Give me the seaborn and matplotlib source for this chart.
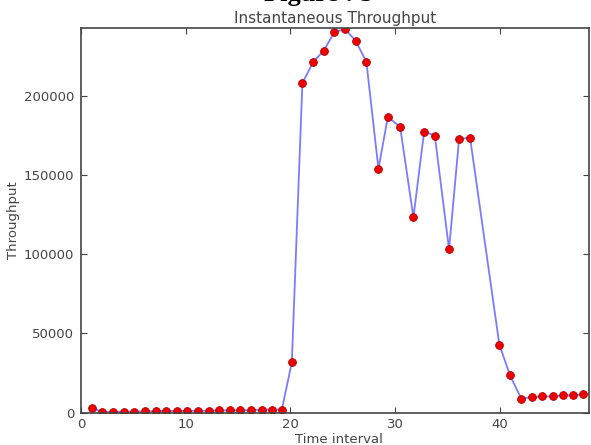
import matplotlib
matplotlib.use("Agg")
import matplotlib.pyplot as plt
import seaborn as sns

# values
time = [1.07, 2.05, 3.07, 4.09, 5.10, 6.13, 7.14, 8.14, 9.16, 10.17,
        11.16, 12.18, 13.20, 14.21, 15.23, 16.25, 17.24, 18.26, 19.18, 20.13,
        21.14, 22.17, 23.19, 24.20, 25.22, 26.24, 27.25, 28.40, 29.30, 30.47,
        31.74, 32.76, 33.78, 35.14, 36.10, 37.15,
        39.94, 40.96, 42.04, 43.05, 44.06, 45.02, 46.01, 46.98, 47.97, 48.95]
throughput = [2700, 500, 500, 500, 600, 700, 900, 1000, 1000, 1100,
              1100, 1200, 1300, 1400, 1400, 1500, 1800, 1900, 1900, 31700,
              208500, 221700, 229000, 240700, 242500, 235000, 221700, 154200, 187000, 180700,
              123400, 177700, 175200, 103200, 173300, 173700,
              43000, 23500, 8700, 9800, 10200, 10200, 10800, 10800, 11500, 11800]
x_ticks = [0, 10, 20, 30, 40]
y_ticks = [0, 50000, 100000, 150000, 200000]

sns.set_style("white")
plt.rcParams['font.family'] = ['DejaVu Sans']
grey = "#444444"

fig = plt.figure(figsize=(5.91, 4.45), dpi=100)
ax = fig.add_axes([0.137, 0.073, 0.8596, 0.865])

sns.lineplot(x=time, y=throughput, ax=ax, color="#7b7bff", linewidth=1.3,
             marker="o", markersize=5.6, markerfacecolor="#ee0000",
             markeredgecolor="#b00000", markeredgewidth=0.6)

ax.set_xlim(0, 48.5)
ax.set_ylim(0, 243500)
ax.set_xticks(x_ticks)
ax.set_yticks(y_ticks)
ax.set_xticklabels([str(t) for t in x_ticks])
ax.set_yticklabels([str(t) for t in y_ticks])

ax.tick_params(axis="x", direction="in", length=4, width=0.8, color=grey,
               labelsize=9.5, labelcolor=grey, pad=4, top=True, bottom=True)
ax.tick_params(axis="y", direction="in", length=4, width=0.8, color=grey,
               labelsize=9.5, labelcolor=grey, pad=5, left=True, right=True)
for s in ax.spines.values():
    s.set_color(grey)
    s.set_linewidth(1.2)
    s.set_visible(True)

ax.set_title("Instantaneous Throughput", fontsize=11, color=grey, pad=3.5)
ax.set_xlabel("Time interval", fontsize=9.5, color=grey)
ax.set_ylabel("Throughput", fontsize=9.5, color=grey)
ax.xaxis.set_label_coords(0.508, -0.052)
ax.yaxis.set_label_coords(-0.12, 0.5)

# document caption above the chart, cut off by the crop
fig.text(0.54, 1 - 1.2 / 445, "Figure : 5", ha="center", va="baseline",
         fontsize=19, fontweight="bold", family=["Liberation Serif"], color="black")

fig.savefig("out.png", dpi=100)
